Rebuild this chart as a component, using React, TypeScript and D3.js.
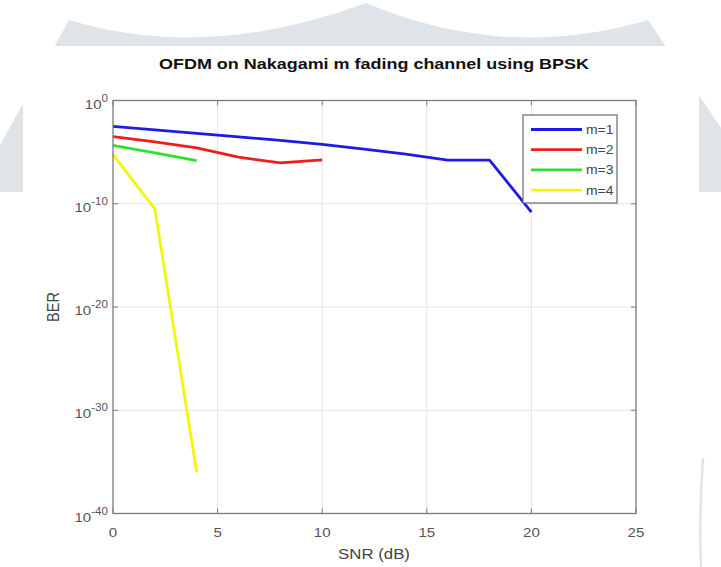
import React from "react";
import * as d3 from "d3";

const snrM1 = [0, 2, 4, 6, 8, 10, 12, 14, 16, 18, 20];
const berM1 = [3.16e-3, 1.45e-3, 6.6e-4, 3.0e-4, 1.35e-4, 5.6e-5, 2.0e-5, 6.3e-6, 1.66e-6, 1.66e-6, 1.58e-11];
const snrM2 = [0, 2, 4, 6, 8, 10];
const berM2 = [3.16e-4, 1.0e-4, 2.6e-5, 3.2e-6, 8.9e-7, 1.8e-6];
const snrM3 = [0, 2, 4];
const berM3 = [4.5e-5, 8.3e-6, 1.5e-6];
const snrM4 = [0, 2, 4];
const berM4 = [5.6e-6, 3.2e-11, 1e-36];

const seriesNames = ["m=1", "m=2", "m=3", "m=4"];
const seriesColors = ["#1c1ce6", "#ee1c1c", "#2fe02f", "#f5f50a"];

const xTicks = [0, 5, 10, 15, 20, 25];
const yTickExps = [0, -10, -20, -30, -40];

const titleText = "OFDM on Nakagami m fading channel using BPSK";
const xLabel = "SNR (dB)";
const yLabel = "BER";

const SX = 1.16;
const FONT = "'Liberation Sans', Arial, Helvetica, sans-serif";

function T(props: any) {
  const { x, y, anchor = "middle", size = 13, weight = "normal", fill = "#444", rotate = 0, children, textLength } = props;
  return (
    <g transform={`translate(${x},${y}) scale(${SX},1) rotate(${rotate})`}>
      <text x={0} y={0} textAnchor={anchor} fontSize={size} fontWeight={weight} fill={fill} fontFamily={FONT}
        textLength={textLength} lengthAdjust={textLength ? "spacingAndGlyphs" : undefined}>
        {children}
      </text>
    </g>
  );
}

export default function App() {
  const W = 721, H = 567;
  const left = 113, right = 636, top = 100.5, bottom = 513.5;
  const x = d3.scaleLinear().domain([0, 25]).range([left, right]);
  const y = d3.scaleLog().domain([1e-40, 1]).range([bottom, top]);
  const line = d3.line<[number, number]>().x(d => x(d[0])).y(d => y(d[1]));

  const series = [
    snrM1.map((s, i) => [s, berM1[i]] as [number, number]),
    snrM2.map((s, i) => [s, berM2[i]] as [number, number]),
    snrM3.map((s, i) => [s, berM3[i]] as [number, number]),
    snrM4.map((s, i) => [s, berM4[i]] as [number, number]),
  ];

  const axisColor = "#7a7a7a";
  const gridColor = "#e4e4e4";
  const wm = "#dfe4e9";

  const legX = 523, legY = 115, legW = 94, legH = 88;

  return (
    <svg width={W} height={H} style={{ position: "absolute", left: 0, top: 0, background: "#fff" }}>
      {/* watermark */}
      <path d="M 69,20 Q 207,62 366,3 Q 506,62 648,20 L 721,128 L 721,192 L 0,192 L 0,145 Z" fill={wm} />
      <path d="M 703,458 Q 699,515 701,567" stroke={wm} strokeWidth={2.5} fill="none" />
      <rect x={23} y={46} width={676} height={521} fill="#fff" />

      {/* grid */}
      {xTicks.slice(1, -1).map(t => (
        <line key={"gx" + t} x1={x(t)} x2={x(t)} y1={top} y2={bottom} stroke={gridColor} strokeWidth={1} />
      ))}
      {yTickExps.slice(1, -1).map(e => (
        <line key={"gy" + e} x1={left} x2={right} y1={y(Math.pow(10, e))} y2={y(Math.pow(10, e))} stroke={gridColor} strokeWidth={1} />
      ))}

      {/* data */}
      {series.map((d, i) => (
        <path key={"s" + i} d={line(d) || ""} fill="none" stroke={seriesColors[i]} strokeWidth={2.8} strokeLinejoin="round" />
      ))}

      {/* axes box */}
      <rect x={left} y={top} width={right - left} height={bottom - top} fill="none" stroke={axisColor} strokeWidth={1.3} />
      {xTicks.map(t => (
        <g key={"tx" + t}>
          <line x1={x(t)} x2={x(t)} y1={bottom} y2={bottom - 5} stroke={axisColor} />
          <line x1={x(t)} x2={x(t)} y1={top} y2={top + 5} stroke={axisColor} />
          <T x={x(t)} y={536.5} size={13} fill="#555">{String(t)}</T>
        </g>
      ))}
      {yTickExps.map(e => {
        const yy = y(Math.pow(10, e));
        return (
          <g key={"ty" + e}>
            <line x1={left} x2={left + 5} y1={yy} y2={yy} stroke={axisColor} />
            <line x1={right} x2={right - 5} y1={yy} y2={yy} stroke={axisColor} />
            <T x={108} y={yy + 8} anchor="end" size={13} fill="#555">
              <tspan>10</tspan>
              <tspan dy={-7} fontSize={10}>{e === 0 ? "0" : "-" + Math.abs(e)}</tspan>
            </T>
          </g>
        );
      })}

      {/* labels */}
      <T x={374} y={68.5} size={15.5} weight="bold" fill="#111" textLength={430 / SX}>{titleText}</T>
      <T x={374} y={559} size={14.5} fill="#444">{xLabel}</T>
      <T x={58.5} y={307} size={14.5} fill="#444" rotate={-90}>{yLabel}</T>

      {/* legend */}
      <rect x={legX} y={legY} width={legW} height={legH} fill="#fff" stroke="#6a6a6a" strokeWidth={1.2} />
      {seriesNames.map((n, i) => {
        const ly = 129.5 + i * 20.2;
        return (
          <g key={"l" + i}>
            <line x1={531} x2={582} y1={ly} y2={ly} stroke={seriesColors[i]} strokeWidth={2.8} />
            <T x={586} y={ly + 4.5} anchor="start" size={12} fill="#444">{n}</T>
          </g>
        );
      })}
    </svg>
  );
}
